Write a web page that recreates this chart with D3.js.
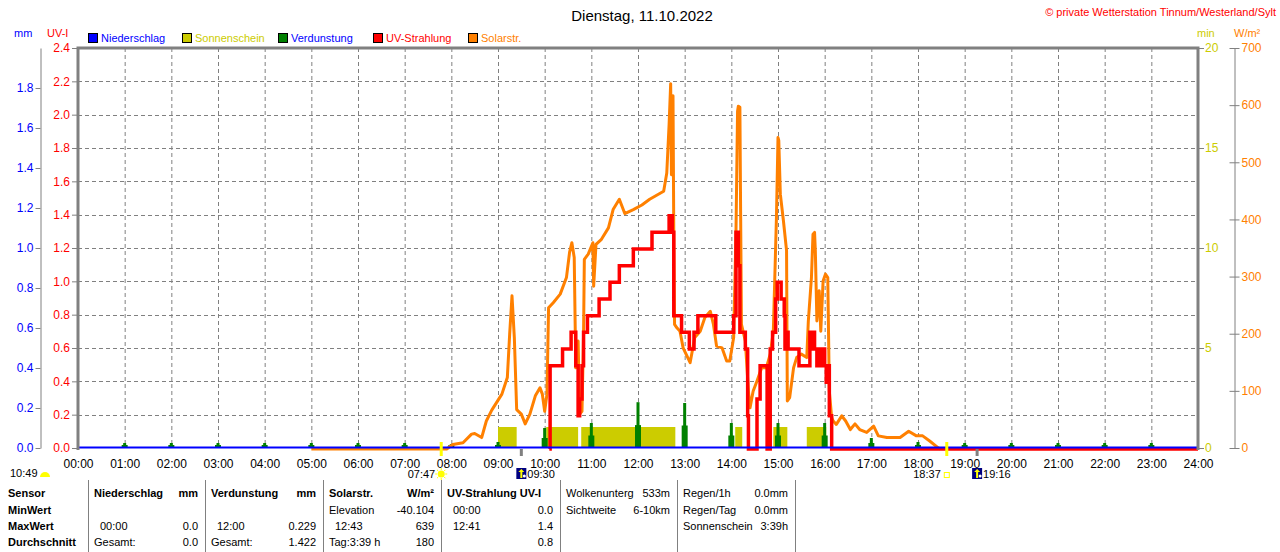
<!DOCTYPE html>
<html>
<head>
<meta charset="utf-8">
<script src="https://cdn.jsdelivr.net/npm/d3@7"></script>
<style>
body { margin: 0; background: #fff; }
svg { display: block; font-family: "Liberation Sans", Arial, sans-serif; font-size: 11px; }
</style>
</head>
<body>
<svg id="chart" width="1280" height="552"></svg>
<script>
// values
const HOUR_TICKS = ["00:00","01:00","02:00","03:00","04:00","05:00","06:00","07:00","08:00","09:00","10:00","11:00","12:00",
  "13:00","14:00","15:00","16:00","17:00","18:00","19:00","20:00","21:00","22:00","23:00","24:00"];
const MM_TICKS = [0, 0.2, 0.4, 0.6, 0.8, 1.0, 1.2, 1.4, 1.6, 1.8];
const UV_TICKS = [0, 0.2, 0.4, 0.6, 0.8, 1.0, 1.2, 1.4, 1.6, 1.8, 2.0, 2.2, 2.4];
const SUN_TICKS = [0, 5, 10, 15, 20];
const SOLAR_TICKS = [0, 100, 200, 300, 400, 500, 600, 700];

const SOLAR_TIMES = ["05:00","07:54","08:02","08:15","08:26","08:30","08:39","08:45","08:52","09:05","09:12","09:15","09:18","09:21",
  "09:24","09:30","09:35","09:41","09:48","09:54","09:57","10:00","10:03","10:05","10:11","10:20","10:28","10:32","10:35","10:38",
  "10:40","10:43","10:45","10:48","10:50","10:51","10:56","11:02","11:03","11:06","11:13","11:22","11:28","11:36","11:43","11:54",
  "12:05","12:15","12:33","12:37","12:40","12:42","12:43","12:44","12:45","12:46","12:47","12:50","12:54","12:58","13:07","13:13",
  "13:20","13:26","13:33","13:37","13:41","13:48","13:54","13:58","14:03","14:06","14:08","14:09","14:11","14:12","14:13","14:18",
  "14:22","14:24","14:28","14:33","14:39","14:45","14:50","14:54","14:58","15:00","15:01","15:03","15:07","15:11","15:12","15:15",
  "15:20","15:24","15:30","15:37","15:39","15:43","15:45","15:47","15:48","15:50","15:53","15:55","15:58","16:01","16:04","16:06",
  "16:09","16:11","16:15","16:22","16:27","16:33","16:39","16:45","16:54","17:03","17:09","17:20","17:37","17:48","17:58","18:06",
  "18:15","18:26","18:29"];
const SOLAR_VALUES = [0,0,8,11,26,27,20,49,68,96,125,201,268,195,
  69,61,44,61,93,107,96,66,96,247,256,271,300,344,361,335,
  142,189,61,66,201,332,341,361,285,358,367,387,419,437,412,419,
  427,437,451,483,568,639,480,557,618,380,218,212,206,177,151,195,
  206,230,241,218,180,177,154,154,195,381,591,600,598,405,218,189,
  101,72,101,119,142,142,166,206,405,545,540,446,399,347,84,90,
  142,160,166,160,224,300,376,379,347,224,277,206,294,306,300,101,
  55,49,43,58,49,34,44,34,29,40,23,20,20,31,23,23,
  14,2,0];

const UV_TIMES = ["10:06","10:07","10:23","10:34","10:40","10:43","10:45","10:48","10:50","10:55","11:10","11:24","11:36","11:54",
  "12:18","12:40","12:44","12:46","12:56","13:06","13:12","13:17","13:40","14:03","14:06","14:09","14:11","14:18","14:21","14:22",
  "14:33","14:37","14:46","14:50","14:53","14:57","14:59","15:04","15:08","15:09","15:11","15:13","15:27","15:41","15:43","15:45",
  "15:47","15:50","15:54","15:56","15:58","16:00","16:02","16:04","16:06","16:09","24:00"];
const UV_VALUES = [0,0.5,0.6,0.7,0.5,0.2,0.3,0.5,0.7,0.8,0.9,1.0,1.1,1.2,
  1.3,1.4,1.3,0.8,0.7,0.6,0.7,0.8,0.7,0.8,1.3,1.1,0.7,0.6,0.2,0,
  0.3,0.5,0,0.6,0.7,0.9,1.0,0.9,0.8,0.6,0.7,0.6,0.5,0.7,0.6,0.7,
  0.6,0.5,0.6,0.5,0.6,0.5,0.4,0.5,0.2,0,0];

const SUN_START = ["09:00","10:02","10:47","14:05","14:54","15:37"];
const SUN_END = ["09:24","10:43","12:48","14:14","15:12","16:02"];
const SUN_MINUTES = [1.05, 1.05, 1.05, 1.05, 1.05, 1.05];

const EVAP_TIMES = ["01:00","02:00","03:00","04:00","05:00","06:00","07:00","08:00","09:00","10:00","11:00","12:00",
  "13:00","14:00","15:00","16:00","17:00","18:00","19:00","20:00","21:00","22:00","23:00"];
const EVAP_VALUES = [0.025,0.025,0.025,0.025,0.025,0.025,0.025,0.02,0.03,0.1,0.125,0.229,
  0.225,0.125,0.125,0.125,0.05,0.03,0.025,0.025,0.025,0.025,0.025];

const LEGEND_NAMES = ["Niederschlag","Sonnenschein","Verdunstung","UV-Strahlung","Solarstr."];
const LEGEND_FILLS = ["#0000ff","#cccc00","#008000","#ff0000","#ff8000"];
const LEGEND_TEXT = ["#0000ff","#cccc00","#0000ff","#ff0000","#ff8000"];

const TABLE_ROWS = ["Sensor","MinWert","MaxWert","Durchschnitt"];
// each column: header pair, then three rows of [left, right]
const TABLE_COLS = [
  { head: ["Niederschlag","mm"], cells: [["",""],["00:00","0.0"],["Gesamt:","0.0"]] },
  { head: ["Verdunstung","mm"], cells: [["",""],["12:00","0.229"],["Gesamt:","1.422"]] },
  { head: ["Solarstr.","W/m²"], cells: [["Elevation","-40.104"],["12:43","639"],["Tag:3:39 h","180"]] },
  { head: ["UV-Strahlung UV-I",""], cells: [["00:00","0.0"],["12:41","1.4"],["","0.8"]] },
  { head: ["Wolkenunterg","533m"], cells: [["Sichtweite","6-10km"],["",""],["",""]], plain: true },
  { head: ["Regen/1h","0.0mm"], cells: [["Regen/Tag","0.0mm"],["Sonnenschein","3:39h"],["",""]], plain: true }
];

const GRID = "#808080";
const tt = (s) => { const [h, m] = s.split(":").map(Number); return h + m / 60; };

const svg = d3.select("#chart");
const LEFT = 78, RIGHT = 1198, TOP = 48, BOTTOM = 448;

const x = d3.scaleLinear().domain([0, 24]).range([LEFT, RIGHT]);
const yUV = d3.scaleLinear().domain([0, 2.4]).range([BOTTOM, TOP]);
const yMM = d3.scaleLinear().domain([0, 2]).range([BOTTOM, TOP]);
const ySun = d3.scaleLinear().domain([0, 20]).range([BOTTOM, TOP]);
const ySolar = d3.scaleLinear().domain([0, 700]).range([BOTTOM, TOP]);

// title and header
svg.append("text").attr("x", 642).attr("y", 21).attr("text-anchor", "middle")
  .attr("font-size", 15).attr("fill", "#000").text("Dienstag, 11.10.2022");
svg.append("text").attr("x", 1276).attr("y", 16).attr("text-anchor", "end")
  .attr("fill", "#ff0000").text("© private Wetterstation Tinnum/Westerland/Sylt");

svg.append("text").attr("x", 14).attr("y", 37).attr("fill", "#0000ff").text("mm");
svg.append("text").attr("x", 47).attr("y", 37).attr("fill", "#ff0000").text("UV-I");
svg.append("text").attr("x", 1197).attr("y", 37).attr("fill", "#cccc00").text("min");
svg.append("text").attr("x", 1234).attr("y", 37).attr("fill", "#ff8000").text("W/m²");

const legendX = [88, 182, 278, 373, 468];
const legend = svg.append("g");
LEGEND_NAMES.forEach((name, i) => {
  legend.append("rect").attr("x", legendX[i] + 0.5).attr("y", 33.5).attr("width", 9).attr("height", 9)
    .attr("fill", LEGEND_FILLS[i]).attr("stroke", "#000");
  legend.append("text").attr("x", legendX[i] + 13).attr("y", 42).attr("fill", LEGEND_TEXT[i]).text(name);
});

// grid
const grid = svg.append("g").attr("stroke", GRID).attr("stroke-dasharray", "4,3");
grid.selectAll("line.v").data(d3.range(1, 24)).join("line").attr("class", "v")
  .attr("x1", d => x(d) + 0.5).attr("x2", d => x(d) + 0.5).attr("y1", TOP).attr("y2", BOTTOM);
grid.selectAll("line.h").data(UV_TICKS.filter(d => d > 0 && d < 2.4)).join("line").attr("class", "h")
  .attr("x1", LEFT).attr("x2", RIGHT).attr("y1", d => Math.round(yUV(d)) + 0.5).attr("y2", d => Math.round(yUV(d)) + 0.5);

// sunshine bars
svg.append("g").selectAll("rect").data(SUN_START).join("rect")
  .attr("x", (d) => x(tt(d)))
  .attr("width", (d, i) => x(tt(SUN_END[i])) - x(tt(d)))
  .attr("y", (d, i) => ySun(SUN_MINUTES[i]))
  .attr("height", (d, i) => BOTTOM - ySun(SUN_MINUTES[i]))
  .attr("fill", "#cccc00");

// evaporation bars
const evap = svg.append("g").attr("fill", "#008000");
EVAP_TIMES.forEach((t, i) => {
  const cx = x(tt(t));
  const h = BOTTOM - yMM(EVAP_VALUES[i]);
  evap.append("rect").attr("x", cx - 1.5).attr("y", BOTTOM - h).attr("width", 3).attr("height", h);
  const hb = Math.min(h, Math.max(3, h * 0.5));
  evap.append("rect").attr("x", cx - 3).attr("y", BOTTOM - hb).attr("width", 6).attr("height", hb);
});

// solar radiation
const solar = SOLAR_TIMES.map((t, i) => [tt(t), SOLAR_VALUES[i]]);
svg.append("path").datum(solar)
  .attr("d", d3.line().x(d => x(d[0])).y(d => ySolar(d[1]) + 1))
  .attr("fill", "none").attr("stroke", "#ff8000").attr("stroke-width", 3).attr("stroke-linejoin", "round");

// UV
const uv = UV_TIMES.map((t, i) => [tt(t), UV_VALUES[i]]);
svg.append("path").datum(uv)
  .attr("d", d3.line().x(d => x(d[0])).y(d => yUV(d[1]) + 1).curve(d3.curveStepAfter))
  .attr("fill", "none").attr("stroke", "#ff0000").attr("stroke-width", 3.5);

// rain zero line
svg.append("line").attr("x1", LEFT).attr("x2", RIGHT).attr("y1", 447.5).attr("y2", 447.5)
  .attr("stroke", "#0000ff").attr("stroke-width", 2);

// frame
const frame = svg.append("g").attr("stroke", GRID).attr("stroke-width", 3).attr("fill", "none");
frame.append("path").attr("d", `M${LEFT},${BOTTOM + 2}V${TOP}H${RIGHT}V${BOTTOM + 2}`);

// axes
const styleAxis = (g, color) => {
  g.selectAll(".tick line").attr("stroke", GRID);
  g.selectAll(".tick text").attr("fill", color).attr("font-size", 12)
    .attr("font-family", "Liberation Sans, Arial, sans-serif");
};

const mmAxis = svg.append("g").attr("transform", "translate(40.5,0)")
  .call(d3.axisLeft(yMM).tickValues(MM_TICKS).tickFormat(d3.format(".1f")).tickSize(5).tickSizeOuter(0).tickPadding(2));
mmAxis.select(".domain").attr("stroke", GRID);
styleAxis(mmAxis, "#0000ff");

const uvAxis = svg.append("g").attr("transform", `translate(${LEFT - 1},0)`)
  .call(d3.axisLeft(yUV).tickValues(UV_TICKS).tickFormat(d3.format(".1f")).tickSize(5).tickPadding(2));
uvAxis.select(".domain").remove();
styleAxis(uvAxis, "#ff0000");

const sunAxis = svg.append("g").attr("transform", `translate(${RIGHT + 1},0)`)
  .call(d3.axisRight(ySun).tickValues(SUN_TICKS).tickFormat(d3.format("d")).tickSize(5).tickPadding(1));
sunAxis.select(".domain").remove();
styleAxis(sunAxis, "#cccc00");

const solarAxis = svg.append("g").attr("transform", "translate(1234.5,0)")
  .call(d3.axisRight(ySolar).tickValues(SOLAR_TICKS).tickFormat(d3.format("d")).tickSize(5).tickSizeOuter(0).tickPadding(2));
solarAxis.select(".domain").attr("stroke", GRID);
solarAxis.selectAll(".tick line").attr("x1", -5);
styleAxis(solarAxis, "#ff8000");

const xAxis = svg.append("g").attr("transform", "translate(0,456)")
  .call(d3.axisBottom(x).tickValues(d3.range(25)).tickFormat((d, i) => HOUR_TICKS[i]).tickSize(0).tickPadding(3));
xAxis.select(".domain").remove();
styleAxis(xAxis, "#000");

// sun / twilight markers
const marks = svg.append("g");
const tick = (t, color, y1) => marks.append("line").attr("x1", x(tt(t))).attr("x2", x(tt(t)))
  .attr("y1", y1).attr("y2", 456).attr("stroke", color).attr("stroke-width", 3);
tick("07:47", "#ffff00", 442);
tick("18:37", "#ffff00", 442);
tick("09:30", GRID, 449);
tick("19:16", GRID, 449);

marks.append("text").attr("x", 10).attr("y", 477).text("10:49");
marks.append("path").attr("d", d3.arc()({ innerRadius: 0, outerRadius: 5, startAngle: -Math.PI / 2, endAngle: Math.PI / 2 }))
  .attr("transform", "translate(45,477)").attr("fill", "#ffff00");

const sunX = x(tt("07:47"));
marks.append("text").attr("x", sunX - 6).attr("y", 478).attr("text-anchor", "end").text("07:47");
marks.append("circle").attr("cx", sunX).attr("cy", 474).attr("r", 3.5).attr("fill", "#ffff00");
d3.range(8).forEach(k => {
  const a = k * Math.PI / 4;
  marks.append("line").attr("x1", sunX + Math.cos(a) * 4).attr("y1", 474 + Math.sin(a) * 4)
    .attr("x2", sunX + Math.cos(a) * 6).attr("y2", 474 + Math.sin(a) * 6).attr("stroke", "#ffff00");
});

const setX = x(tt("18:37"));
marks.append("text").attr("x", setX - 6).attr("y", 478).attr("text-anchor", "end").text("18:37");
marks.append("rect").attr("x", setX - 2.5).attr("y", 472.5).attr("width", 5).attr("height", 5)
  .attr("fill", "none").attr("stroke", "#ffff00");

const twilight = (t) => {
  const cx = x(tt(t));
  marks.append("rect").attr("x", cx - 5).attr("y", 468).attr("width", 10).attr("height", 11).attr("fill", "#000080");
  marks.append("path").attr("d", `M${cx - 1},478V472h-2l3,-3l3,3h-2V478Z`).attr("fill", "#ffff00");
  marks.append("circle").attr("cx", cx + 3).attr("cy", 476).attr("r", 1.5).attr("fill", "#fff");
  marks.append("text").attr("x", cx + 6).attr("y", 478).text(t);
};
twilight("09:30");
twilight("19:16");

// table
const table = svg.append("g");
const rowY = [497, 514, 530, 546];
const colX = [88, 205, 323, 441, 560, 677, 795];
colX.forEach(cx => table.append("line").attr("x1", cx + 0.5).attr("x2", cx + 0.5).attr("y1", 480).attr("y2", 552)
  .attr("stroke", GRID));
TABLE_ROWS.forEach((r, i) => table.append("text").attr("x", 8).attr("y", rowY[i]).attr("font-weight", 700).text(r));
TABLE_COLS.forEach((c, j) => {
  const l = colX[j] + 6, r = colX[j + 1] - 7;
  table.append("text").attr("x", l).attr("y", rowY[0]).attr("font-weight", c.plain ? 400 : 700).text(c.head[0]);
  table.append("text").attr("x", r).attr("y", rowY[0]).attr("text-anchor", "end")
    .attr("font-weight", c.plain ? 400 : 700).text(c.head[1]);
  c.cells.forEach((cell, k) => {
    const indent = /^\d\d:\d\d$/.test(cell[0]) ? 6 : 0;
    table.append("text").attr("x", l + indent).attr("y", rowY[k + 1]).text(cell[0]);
    table.append("text").attr("x", r).attr("y", rowY[k + 1]).attr("text-anchor", "end").text(cell[1]);
  });
});
</script>
</body>
</html>
